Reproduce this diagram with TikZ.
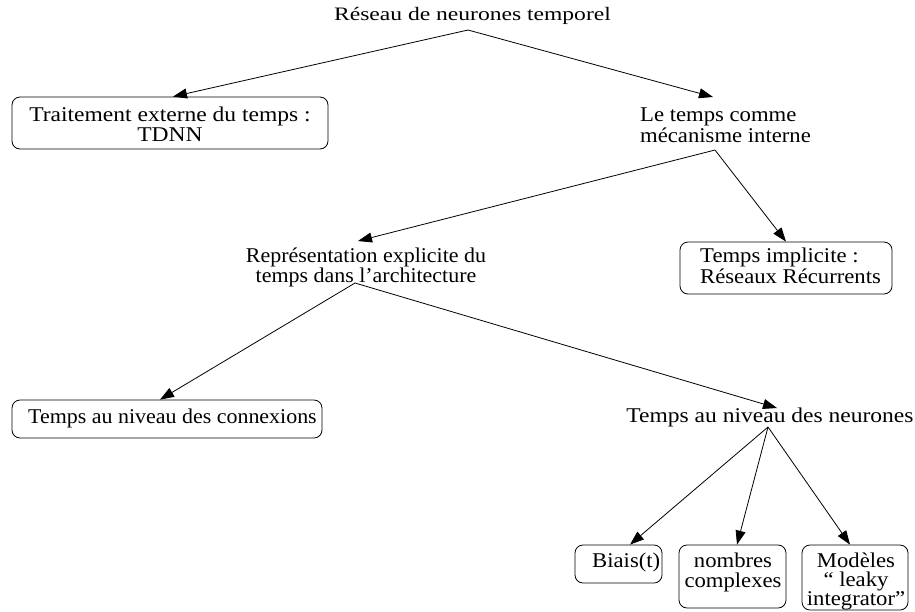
\documentclass[tikz,border=0pt]{standalone}
\usepackage{fontspec}
\setmainfont[FakeStretch=1.08]{Liberation Serif}
\newfontfamily\titlefont[FakeStretch=1.24]{Liberation Serif}
\newfontfamily\narrowfont[FakeStretch=1.045]{Liberation Serif}
\newfontfamily\widefont[FakeStretch=1.12]{Liberation Serif}
\usetikzlibrary{arrows.meta}
\begin{document}
\begin{tikzpicture}[x=1pt,y=-1pt,
  every node/.style={font=\fontsize{21}{19.5}\selectfont},
  txt/.style={inner sep=0pt, anchor=base},
  box/.style={draw, line width=0.8pt, rounded corners=8pt, inner sep=0pt},
  link/.style={line width=0.8pt, -{Triangle[length=14pt,width=10pt]}}]
\useasboundingbox (0,0) rectangle (915,611);

% texts and boxes (multi-line texts are placed by the baseline of their last line)
\node[txt, font=\titlefont\fontsize{19}{19}\selectfont] (root) at (472.5,20) {Réseau de neurones temporel};

\node[box, minimum width=316pt, minimum height=52pt] (ext) at (170,123) {};
\node[txt, align=center, font=\widefont\fontsize{21}{17.5}\selectfont] (extT) at (170,141) {Traitement externe du temps :\\TDNN};

\node[txt, align=left, anchor=base west, font=\fontsize{21}{19}\selectfont] (int) at (640,142) {Le temps comme\\mécanisme interne};

\node[txt, align=center, font=\narrowfont\fontsize{21}{20}\selectfont] (rep) at (366,282) {Représentation explicite du\\temps dans l’architecture};

\node[box, minimum width=212pt, minimum height=52pt] (impl) at (786,268) {};
\node[txt, align=left, anchor=base west, font=\fontsize{21}{21}\selectfont] (implT) at (700,283) {Temps implicite :\\Réseaux Récurrents};

\node[box, minimum width=310pt, minimum height=38pt] (conn) at (167,419) {};
\node[txt, anchor=base west, font=\narrowfont\fontsize{21}{20}\selectfont] (connT) at (28,423) {Temps au niveau des connexions};

\node[txt, font=\widefont\fontsize{21}{20}\selectfont] (neur) at (770,422) {Temps au niveau des neurones};

\node[box, minimum width=87pt, minimum height=38pt] (biais) at (618.5,564) {};
\node[txt, anchor=base west] (biaisT) at (592,567) {Biais(t)};

\node[box, minimum width=107pt, minimum height=63pt] (nomb) at (732.5,576.5) {};
\node[txt, align=center, font=\fontsize{21}{20}\selectfont] (nombT) at (733,587) {nombres\\complexes};

\node[box, minimum width=106pt, minimum height=65pt] (mod) at (855,577.5) {};
\node[txt, align=center, font=\fontsize{21}{19}\selectfont] (modT) at (856,605) {Modèles\\“ leaky\\integrator”};

% connectors
\draw[link] ([xshift=-4.5pt,yshift=-10pt]root.base) -- ([xshift=3pt]ext.north);
\draw[link] ([xshift=-4.5pt,yshift=-10pt]root.base) -- ([xshift=73pt,yshift=45pt]int.base west);
\draw[link] ([xshift=75pt,yshift=-8pt]int.base west) -- ([xshift=-8pt,yshift=41pt]rep.base);
\draw[link] ([xshift=75pt,yshift=-8pt]int.base west) -- (impl.north);
\draw[link] ([xshift=-11pt,yshift=-1pt]rep.base) -- ([xshift=-7pt]conn.north);
\draw[link] ([xshift=-11pt,yshift=-1pt]rep.base) -- ([xshift=7pt,yshift=14pt]neur.base);
\draw[link] ([xshift=-2pt,yshift=-5pt]neur.base) -- ([xshift=11.5pt]biais.north);
\draw[link] ([xshift=-2pt,yshift=-5pt]neur.base) -- ([xshift=4.5pt]nomb.north);
\draw[link] ([xshift=-2pt,yshift=-5pt]neur.base) -- ([xshift=-5pt]mod.north);
\end{tikzpicture}
\end{document}
